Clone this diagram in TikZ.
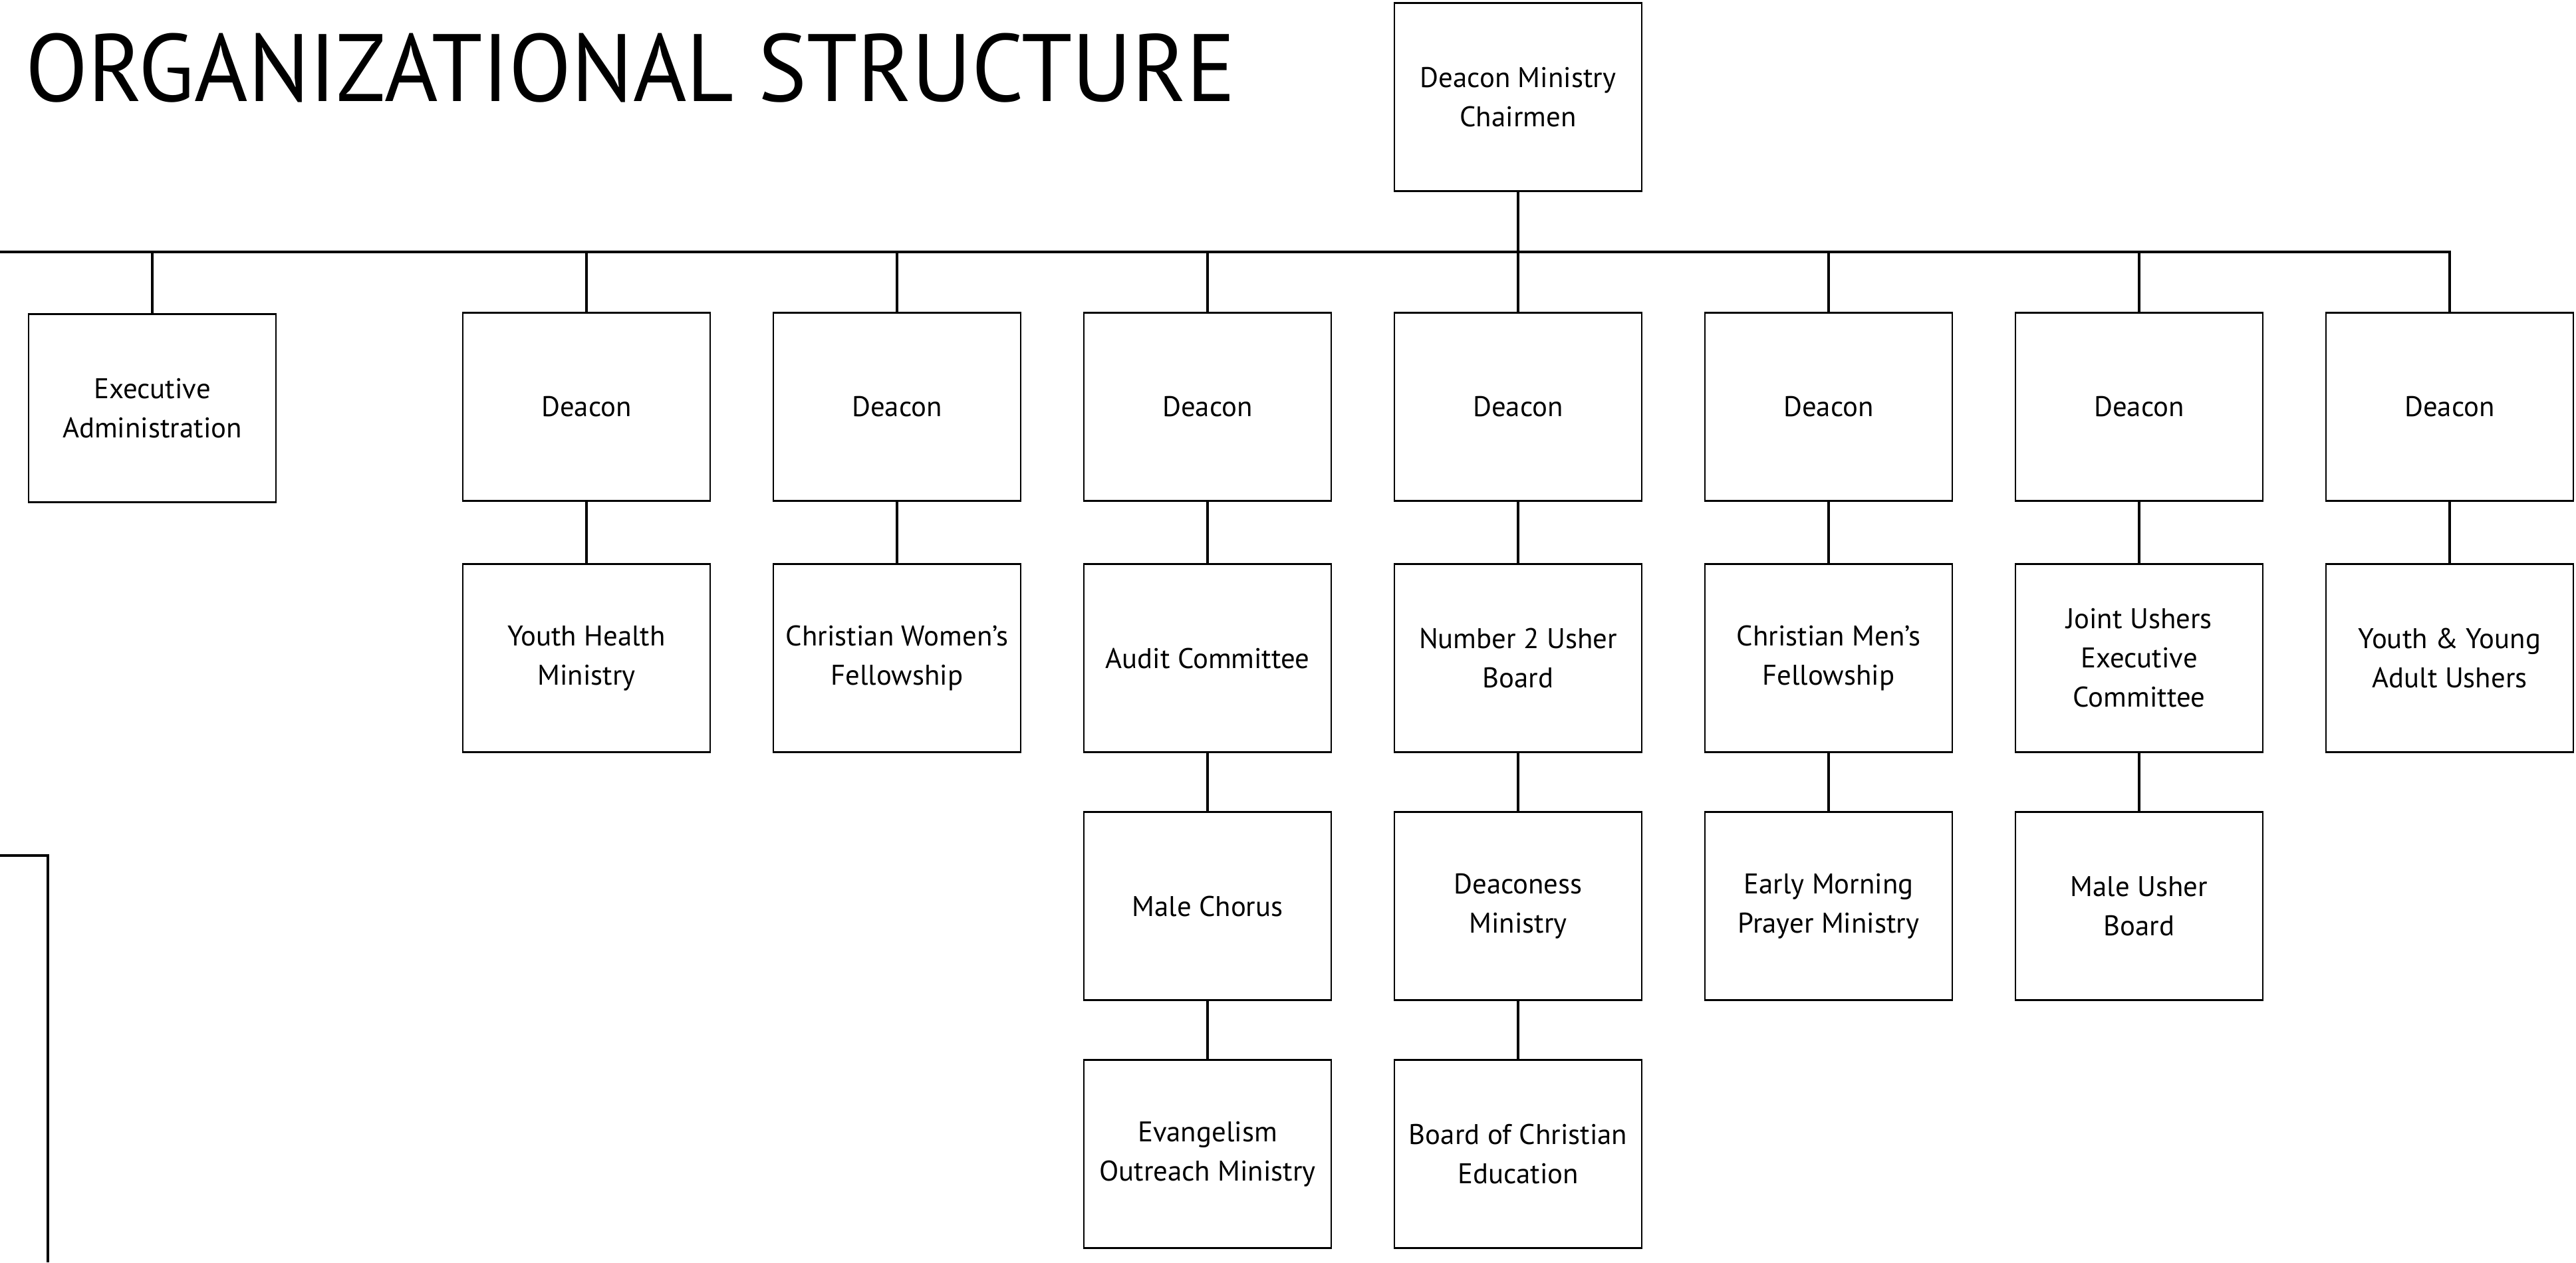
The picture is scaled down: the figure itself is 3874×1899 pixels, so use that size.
\documentclass[tikz,border=0pt]{standalone}
\usepackage{fontspec}
\setmainfont{PT Sans}
\tikzset{
  unit/.style={draw, line width=0.7pt, minimum width=93pt, minimum height=70.75pt,
    inner sep=0pt, align=center, font=\fontsize{10.7}{14.75}\selectfont},
  link/.style={line width=1.2pt}
}
\begin{document}
\begin{tikzpicture}[x=0.25pt,y=-0.25pt]
  \useasboundingbox (0,0) rectangle (3874,1899);
  \node[anchor=base west, inner sep=0pt, font=\fontsize{36}{36}\selectfont] (title)
    at (38,152) {\scalebox{0.955}[1]{ORGANIZATIONAL STRUCTURE}};
  \coordinate (busL) at (0,379);
  \coordinate (busR) at (3686,379);
  \draw
    (2283,146) node[unit] (chair) {Deacon Ministry\\Chairmen}
    (229,614) node[unit] (exec) {Executive\\Administration}
    (882,612) node[unit] (d1) {Deacon}
    (1349,612) node[unit] (d2) {Deacon}
    (1816,612) node[unit] (d3) {Deacon}
    (2283,612) node[unit] (d4) {Deacon}
    (2750,612) node[unit] (d5) {Deacon}
    (3217,612) node[unit] (d6) {Deacon}
    (3684,612) node[unit] (d7) {Deacon}
    (882,990) node[unit] (health) {Youth Health\\Ministry}
    (1349,990) node[unit] (women) {Christian Women’s\\Fellowship}
    (1816,990) node[unit] (audit) {Audit Committee}
    (2283,990) node[unit] (usher2) {Number 2 Usher\\Board}
    (2750,990) node[unit] (men) {Christian Men’s\\Fellowship}
    (3217,990) node[unit] (joint) {Joint Ushers\\Executive\\Committee}
    (3684,990) node[unit] (young) {Youth \& Young\\Adult Ushers}
    (1816,1363) node[unit] (chorus) {Male Chorus}
    (2283,1363) node[unit] (deaconess) {Deaconess\\Ministry}
    (2750,1363) node[unit] (prayer) {Early Morning\\Prayer Ministry}
    (3217,1363) node[unit] (maleusher) {Male Usher\\Board}
    (1816,1736) node[unit] (evang) {Evangelism\\Outreach Ministry}
    (2283,1736) node[unit] (bce) {Board of Christian\\Education};
  \begin{scope}[link]
    \draw (busL) to (busR);
    \draw (chair) to (d4);
    \draw (exec.north) to (exec.north |- busL);
    \draw (d1.north) to (d1.north |- busL);
    \draw (d2.north) to (d2.north |- busL);
    \draw (d3.north) to (d3.north |- busL);
    \draw (d5.north) to (d5.north |- busL);
    \draw (d6.north) to (d6.north |- busL);
    \draw (d7.north) to (d7.north |- busL);
    \draw (d1) to (health);
    \draw (d2) to (women);
    \draw (d3) to (audit);
    \draw (audit) to (chorus);
    \draw (chorus) to (evang);
    \draw (d4) to (usher2);
    \draw (usher2) to (deaconess);
    \draw (deaconess) to (bce);
    \draw (d5) to (men);
    \draw (men) to (prayer);
    \draw (d6) to (joint);
    \draw (joint) to (maleusher);
    \draw (d7) to (young);
  \end{scope}
  \coordinate (brA) at (0,1287);
  \coordinate (brB) at (72,1287);
  \coordinate (brC) at (72,1899);
  \draw[link] (brA) -- (brB) -- (brC);
\end{tikzpicture}
\end{document}
